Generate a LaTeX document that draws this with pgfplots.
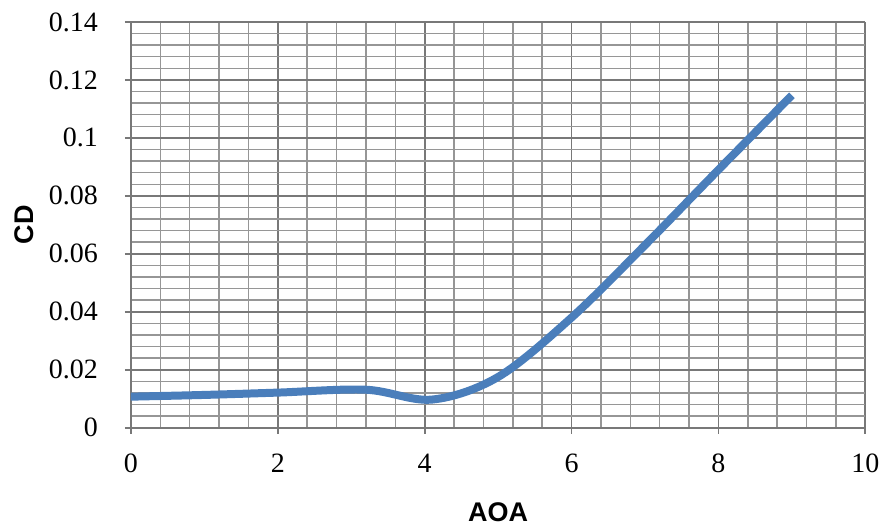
\documentclass[border=0pt]{standalone}
\usepackage{pgfplots}
\pgfplotsset{compat=1.18}
\usepackage{fontspec}
\setmainfont{Liberation Serif}
\newfontfamily\arial{Liberation Sans}
\definecolor{lineblue}{RGB}{74,126,187}
\definecolor{majgrid}{RGB}{120,120,120}
\definecolor{mingrid}{RGB}{150,150,150}
\begin{document}
\begin{tikzpicture}
\begin{axis}[
  scale only axis,
  width=367.5pt, height=203pt,
  xmin=0, xmax=10, ymin=0, ymax=0.14,
  xtick={0,2,...,10},
  ytick={0,0.02,...,0.14},
  yticklabels={0,0.02,0.04,0.06,0.08,0.1,0.12,0.14},
  minor x tick num=4,
  minor y tick num=4,
  grid=both,
  major grid style={majgrid, line width=0.9pt},
  minor grid style={mingrid, line width=0.75pt},
  axis line style={majgrid, line width=0.9pt},
  tick style={majgrid, line width=0.9pt},
  tick align=outside,
  major tick length=3pt,
  minor tick length=0pt,
  axis x line*=bottom, axis y line*=left,
  /pgf/number format/assume math mode=true,
  ticklabel style={font=\fontsize{14}{16}\selectfont},
  xticklabel style={yshift=-6.5pt},
  yticklabel style={xshift=-10pt},
  label style={font=\arial\bfseries\fontsize{13.5}{15}\selectfont},
  xlabel={AOA},
  ylabel={CD},
  xlabel style={at={(axis description cs:0.5,-0.2315)}, anchor=base},
  ylabel style={at={(axis description cs:-0.1456,0.5)}, anchor=center, rotate=0},
]
\addplot[lineblue, line width=4pt, smooth, tension=0.55] coordinates {
(0,0.0107) (1,0.0113) (2,0.0121) (3.2,0.0131) (4.1,0.0097)
(5,0.0175) (6,0.0380) (7,0.0630) (8,0.0890) (9,0.1147)
};
\end{axis}
\path (current axis.south west) ++(-65.5pt,-49pt) coordinate (bbA);
\path (current axis.north east) ++(10pt,11pt) coordinate (bbB);
\path (bbA) rectangle (bbB);
\end{tikzpicture}
\end{document}
